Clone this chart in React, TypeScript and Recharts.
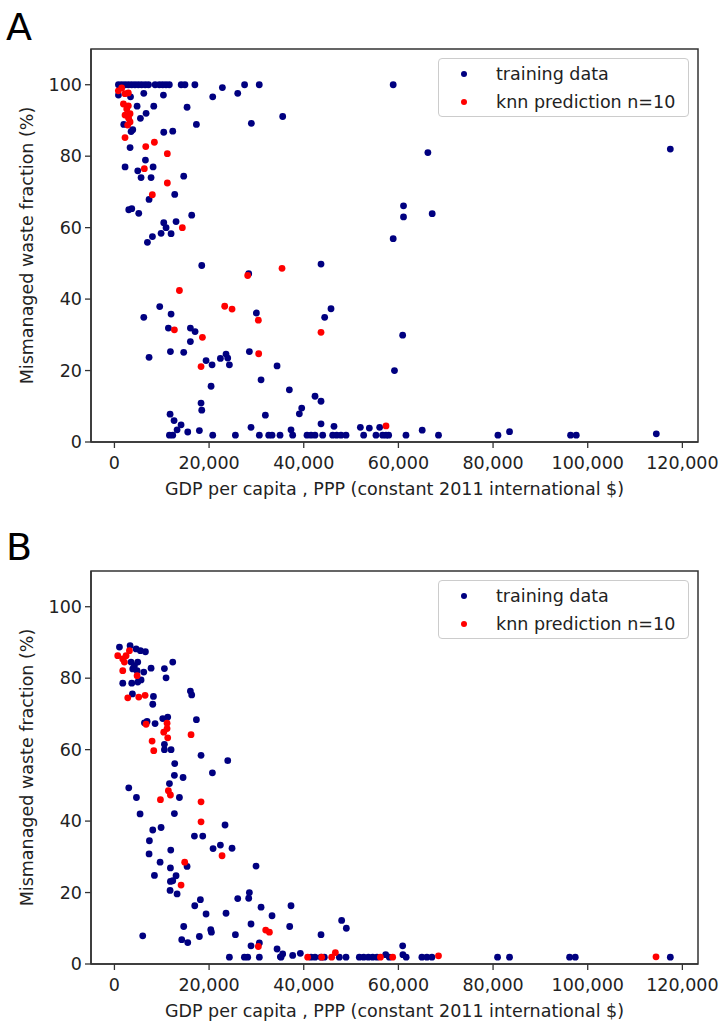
import React from 'react';
import { ScatterChart, Scatter, XAxis, YAxis, ReferenceArea, Legend } from 'recharts';

const FONT = '"DejaVu Sans", sans-serif';
const NAVY = '#000080';
const RED = '#ff0000';
const AXIS = '#333333';
const TEXT = '#222222';

const xTicks = [0, 20000, 40000, 60000, 80000, 100000, 120000];
const yTicks = [0, 20, 40, 60, 80, 100];
const xDomain = [-4950, 123300];
const yDomain = [0, 110];
const seriesNames = ['training data', 'knn prediction n=10'];
const panelLetters = ['A', 'B'];
const xAxisTitle = 'GDP per capita , PPP (constant 2011 international $)';
const yAxisTitle = 'Mismanaged waste fraction (%)';

// Panel A: training data [GDP, %]
const trainingA = [
  [850, 100], [1550, 100], [2250, 100], [2950, 100], [3650, 100], [4350, 100], [5050, 100], [5750, 100],
  [6500, 100], [7200, 100], [8600, 100], [9500, 100], [10200, 100], [10900, 100], [11600, 100], [14100, 100],
  [14900, 100], [17000, 100], [27500, 100], [30600, 100], [58900, 100],
  [850, 97.1], [3400, 96.6], [6200, 97.6], [10350, 97.1], [20770, 96.6], [22810, 99.2], [26050, 97.6],
  [4790, 94.0], [8310, 94.0], [15350, 93.7], [35550, 91.1], [6690, 92.0], [5490, 90.6], [1970, 88.9],
  [17320, 88.9], [28930, 89.2], [3520, 86.9], [3870, 87.4], [10420, 86.7], [12320, 87.0], [3310, 82.4],
  [6550, 78.9], [2250, 77.0], [8170, 77.0], [4930, 75.9], [5630, 74.0], [7740, 74.0], [14640, 74.4],
  [7320, 67.9], [12740, 69.3], [3030, 65.0], [3660, 65.3], [5140, 64.0], [16330, 63.5], [10420, 61.4],
  [13020, 61.7], [10910, 60.0], [9860, 58.4], [11970, 58.3], [8030, 57.5], [6970, 55.9],
  [18450, 49.4], [43650, 49.8], [28370, 47.1], [9570, 37.9], [6200, 34.9], [11970, 35.8], [29990, 36.1],
  [45760, 37.3], [44420, 34.9], [60900, 29.9], [11400, 31.9], [16050, 31.9], [17040, 30.9], [16050, 28.1],
  [7320, 23.7], [11830, 25.3], [14640, 25.1], [28510, 25.3], [19360, 22.8], [20630, 21.6], [22390, 23.4],
  [23580, 24.6], [23940, 23.5], [24290, 21.6], [34360, 21.3], [30980, 17.4], [20420, 15.6], [36960, 14.6],
  [42380, 12.8], [43650, 11.4], [18300, 10.9], [18450, 8.9], [39570, 9.5], [39070, 7.9], [11760, 7.8],
  [12600, 6.0], [14080, 4.8], [13240, 3.4], [15490, 2.8], [17950, 3.2], [31890, 7.5], [28860, 4.1],
  [37310, 3.4], [43650, 5.1], [46390, 4.4], [51960, 4.1], [53860, 3.9], [56040, 4.1],
  [11620, 1.9], [12320, 1.9], [20770, 1.9], [25560, 1.9], [30620, 1.9], [32600, 1.9], [33300, 1.9],
  [34990, 1.9], [37660, 1.9], [40690, 1.9], [41540, 1.9], [42380, 1.9], [44000, 1.9], [46110, 1.9],
  [46960, 1.9], [47870, 1.9], [48930, 1.9], [52660, 1.9], [55260, 1.9], [56670, 1.9], [57380, 1.9],
  [57940, 1.9], [61600, 1.9], [68470, 1.9], [81030, 1.9], [96380, 1.9], [97580, 1.9], [114490, 2.3],
  [59170, 20.0], [65030, 3.3], [83480, 2.9], [66230, 81.0], [117450, 82.0], [61080, 66.1], [61080, 63.0],
  [67140, 63.9], [58900, 56.9],
];

// Panel A: knn predictions
const knnA = [
  [830, 98.3], [1540, 99.1], [2240, 97.5], [2940, 97.7], [1900, 94.6], [2940, 94.1], [2600, 93.2],
  [2240, 91.5], [3300, 91.9], [3000, 90.6], [3300, 89.6], [2800, 88.7], [2240, 85.2], [6620, 82.7],
  [8440, 83.9], [11180, 80.7], [6320, 76.5], [11180, 72.5], [8010, 69.2], [14350, 60.0],
  [35410, 48.6], [28160, 46.6], [13730, 42.4], [23300, 38.0], [24850, 37.2], [30410, 34.1], [43650, 30.7],
  [12670, 31.4], [18590, 29.3], [30480, 24.7], [18300, 21.1], [57380, 4.5],
];

// Panel B: training data
const trainingB = [
  [1060, 88.7], [3310, 89.1], [4580, 88.2], [5490, 87.7], [6550, 87.4], [3520, 84.5], [4220, 83.5],
  [4930, 84.5], [3870, 82.6], [4790, 82.1], [6200, 81.7], [7740, 82.8], [10560, 82.7], [12320, 84.5],
  [10910, 80.1], [1760, 78.6], [3660, 78.6], [4930, 78.9], [5630, 79.5], [3800, 75.6], [8240, 74.9],
  [8100, 72.7], [16050, 76.4], [16330, 75.3], [6340, 67.5], [6900, 67.9], [8590, 67.3], [10210, 68.7],
  [11260, 69.1], [17320, 68.4], [10560, 61.5], [10560, 60.0], [11970, 60.0], [18300, 58.4], [23940, 56.9],
  [12740, 56.1], [20700, 53.5], [12670, 52.8], [14500, 52.2],
  [3030, 49.3], [4650, 46.6], [11620, 50.5], [13730, 46.6], [5420, 42.0], [12670, 42.1], [23370, 38.9],
  [8100, 37.5], [9860, 38.2], [7390, 34.5], [16900, 35.8], [18660, 35.8], [22390, 33.3], [20840, 32.3],
  [24850, 32.4], [7320, 30.8], [11900, 31.9], [9650, 28.5], [15350, 27.3], [29920, 27.4], [11830, 26.9],
  [8450, 24.8], [13020, 24.7], [12320, 23.3], [11830, 23.1], [11760, 20.6], [13240, 19.6], [28510, 20.0],
  [28370, 18.4], [26050, 18.3], [18160, 18.0], [16970, 16.3], [37310, 16.3], [30980, 15.9], [19360, 14.0],
  [23580, 14.2], [33300, 13.5], [28860, 11.2], [48010, 12.2], [49000, 10.0], [37030, 10.5], [14640, 10.5],
  [5980, 7.9], [17950, 7.7], [20490, 8.9], [20350, 9.6], [25560, 8.2], [43650, 8.2], [14220, 6.8],
  [15490, 6.0], [28860, 5.1], [30620, 5.9], [34360, 4.2], [35550, 2.8], [35060, 2.0], [37660, 2.4],
  [39280, 3.0], [60900, 5.1], [57310, 2.6], [60950, 2.6],
  [24290, 1.9], [27460, 1.9], [28160, 1.9], [30620, 1.9], [35200, 1.9], [41540, 1.9], [42380, 1.9],
  [43650, 1.9], [44350, 1.9], [47520, 1.9], [48930, 1.9], [51740, 1.9], [52660, 1.9], [53650, 1.9],
  [54560, 1.9], [55480, 1.9], [58080, 1.9], [61640, 1.9], [64960, 1.9], [66020, 1.9], [67080, 1.9],
  [80950, 1.9], [83480, 1.9], [96170, 1.9], [97370, 1.9], [117450, 1.9],
];

// Panel B: knn predictions
const knnB = [
  [700, 86.3], [1760, 85.4], [2460, 86.3], [3170, 87.7], [2110, 84.5], [1760, 82.1], [4790, 80.7],
  [2820, 74.5], [5140, 74.7], [6480, 75.2], [6690, 67.1], [11120, 67.4], [11120, 65.9], [10420, 64.9],
  [11260, 63.3], [16190, 64.2], [7960, 62.4], [8310, 59.7],
  [11400, 48.5], [11830, 47.3], [9720, 46.0], [18300, 45.4], [18300, 39.8], [22740, 30.3], [14850, 28.5],
  [14080, 22.1], [31960, 9.5], [32740, 8.9], [30410, 4.9], [40830, 1.9], [43790, 1.9], [45900, 1.9],
  [46680, 3.2], [56200, 1.9], [58790, 1.9], [68470, 2.3], [114430, 2.0],
];

const toPoints = (arr: number[][]) => arr.map(([x, y]) => ({ x, y }));
const fmt = (v: number) => v.toLocaleString('en-US');

const makeDot = (color: string) => (props: any) => (
  <circle cx={props.cx} cy={props.cy} r={3.4} fill={color} />
);

const legendColors = [NAVY, RED];

const LegendBox = () => (
  <div
    style={{
      boxSizing: 'border-box',
      width: 251,
      height: 59,
      border: '1px solid #cccccc',
      borderRadius: 4,
      background: 'rgba(255,255,255,0.85)',
      position: 'relative',
      fontFamily: FONT,
      fontSize: 17.5,
      color: TEXT,
    }}
  >
    {seriesNames.map((name, i) => (
      <div
        key={name}
        style={{ position: 'absolute', left: 0, top: 4 + i * 27.7, height: 22, lineHeight: '22px', whiteSpace: 'nowrap' }}
      >
        <svg width={30} height={22} style={{ position: 'absolute', left: 10, top: 0 }}>
          <circle cx={15} cy={11} r={3} fill={legendColors[i]} />
        </svg>
        <span style={{ position: 'absolute', left: 57, top: 0 }}>{name}</span>
      </div>
    ))}
  </div>
);

const YTitle = (props: any) => {
  const vb = props && props.viewBox;
  const cy = vb && typeof vb.y === 'number' && vb.height ? vb.y + vb.height / 2 : 245.5;
  const cx = 33;
  return (
    <text
      x={cx}
      y={cy}
      transform={`rotate(-90, ${cx}, ${cy})`}
      textAnchor="middle"
      fontSize={17.5}
      fill={TEXT}
      fontFamily={FONT}
    >
      {yAxisTitle}
    </text>
  );
};

function Panel({ training, knn }: { training: number[][]; knn: number[][] }) {
  const tickStyle = { fontSize: 17.5, fill: TEXT, fontFamily: FONT };
  return (
    <ScatterChart width={722} height={501} margin={{ top: 49, right: 24, bottom: 0, left: 0 }}>
      <XAxis
        type="number"
        dataKey="x"
        domain={xDomain}
        ticks={xTicks}
        tickFormatter={fmt}
        allowDataOverflow
        tick={tickStyle}
        tickLine={{ stroke: AXIS, strokeWidth: 1.3 }}
        tickSize={6}
        tickMargin={9}
        axisLine={{ stroke: AXIS, strokeWidth: 1.5 }}
        height={59}
        label={{ value: xAxisTitle, position: 'insideBottom', offset: 6, style: tickStyle }}
      />
      <YAxis
        type="number"
        dataKey="y"
        domain={yDomain}
        ticks={yTicks}
        allowDataOverflow
        tick={tickStyle}
        tickLine={{ stroke: AXIS, strokeWidth: 1.3 }}
        tickSize={6}
        tickMargin={3}
        axisLine={{ stroke: AXIS, strokeWidth: 1.5 }}
        width={91}
        label={(p: any) => <YTitle {...p} />}
      />
      <ReferenceArea
        x1={xDomain[0]}
        x2={xDomain[1]}
        y1={yDomain[0]}
        y2={yDomain[1]}
        fill="none"
        fillOpacity={0}
        stroke={AXIS}
        strokeWidth={1.5}
        ifOverflow="visible"
      />
      <Scatter
        name={seriesNames[0]}
        data={toPoints(training)}
        fill={NAVY}
        isAnimationActive={false}
        shape={makeDot(NAVY)}
      />
      <Scatter
        name={seriesNames[1]}
        data={toPoints(knn)}
        fill={RED}
        isAnimationActive={false}
        shape={makeDot(RED)}
      />
      <Legend
        layout="vertical"
        align="center"
        verticalAlign="middle"
        wrapperStyle={{ left: 438, top: 58, width: 251, height: 59 }}
        content={() => <LegendBox />}
      />
    </ScatterChart>
  );
}

export default function App() {
  return (
    <div
      style={{
        position: 'absolute',
        left: 0,
        top: 0,
        width: 722,
        height: 1023,
        overflow: 'hidden',
        background: '#ffffff',
        fontFamily: FONT,
      }}
    >
      <div style={{ position: 'absolute', left: 0, top: 0 }}>
        <Panel training={trainingA} knn={knnA} />
      </div>
      <div style={{ position: 'absolute', left: 0, top: 522 }}>
        <Panel training={trainingB} knn={knnB} />
      </div>
      <svg width={60} height={50} style={{ position: 'absolute', left: 0, top: 0 }}>
        <text x={6} y={40} fontSize={38} fill="#000" fontFamily={FONT}>{panelLetters[0]}</text>
      </svg>
      <svg width={60} height={50} style={{ position: 'absolute', left: 0, top: 520 }}>
        <text x={6} y={40} fontSize={38} fill="#000" fontFamily={FONT}>{panelLetters[1]}</text>
      </svg>
    </div>
  );
}
